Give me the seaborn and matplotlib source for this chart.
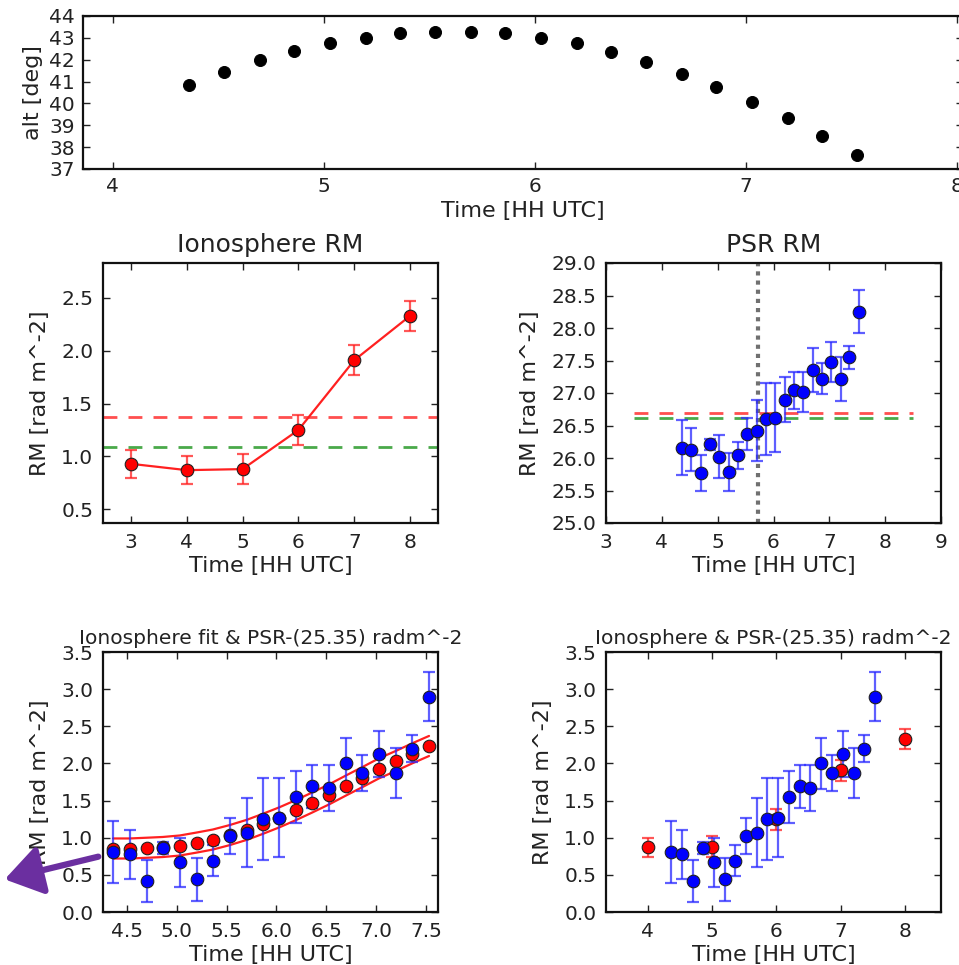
import matplotlib
matplotlib.use("Agg")
import matplotlib.pyplot as plt
import seaborn as sns
import numpy as np
import pandas as pd

# ---------------- data ----------------
psr_time = [4.36, 4.53, 4.70, 4.86, 5.03, 5.20, 5.36, 5.53, 5.70, 5.86,
            6.03, 6.20, 6.36, 6.53, 6.70, 6.86, 7.03, 7.20, 7.36, 7.53]
alt_deg = [40.85, 41.45, 42.0, 42.4, 42.75, 43.0, 43.2, 43.25, 43.25, 43.2,
           43.0, 42.75, 42.35, 41.9, 41.35, 40.75, 40.05, 39.35, 38.5, 37.65]

ion_time = [3, 4, 5, 6, 7, 8]
ion_rm = [0.93, 0.87, 0.88, 1.25, 1.91, 2.33]
ion_err = [0.13, 0.13, 0.14, 0.14, 0.14, 0.14]
ion_mean_red = 1.37
ion_mean_green = 1.09

psr_rm = [26.16, 26.13, 25.77, 26.21, 26.02, 25.79, 26.04, 26.37, 26.42, 26.60,
          26.62, 26.90, 27.04, 27.02, 27.35, 27.22, 27.48, 27.22, 27.55, 28.25]
psr_err = [0.42, 0.33, 0.28, 0.08, 0.33, 0.29, 0.21, 0.24, 0.47, 0.55,
           0.53, 0.35, 0.29, 0.31, 0.34, 0.24, 0.31, 0.34, 0.18, 0.33]
psr_mean_red = 26.70
psr_mean_green = 26.62
psr_vline = 5.73
psr_offset = 25.35

fit_rm = [0.85, 0.85, 0.86, 0.87, 0.89, 0.93, 0.97, 1.03, 1.10, 1.18,
          1.27, 1.37, 1.47, 1.58, 1.70, 1.81, 1.93, 2.03, 2.13, 2.23]
fit_upper = [0.99, 0.99, 1.00, 1.01, 1.03, 1.07, 1.11, 1.17, 1.24, 1.32,
             1.41, 1.51, 1.61, 1.72, 1.84, 1.95, 2.07, 2.17, 2.27, 2.37]
fit_lower = [0.72, 0.72, 0.73, 0.74, 0.76, 0.80, 0.84, 0.90, 0.97, 1.05,
             1.14, 1.24, 1.34, 1.45, 1.57, 1.68, 1.80, 1.90, 2.00, 2.10]

psr_diff = [v - psr_offset for v in psr_rm]

# ---------------- style ----------------
sns.set_style("white")
plt.rcParams.update({
    "font.family": ["DejaVu Sans"],
    "xtick.direction": "in", "ytick.direction": "in",
    "xtick.top": True, "ytick.right": True,
    "xtick.bottom": True, "ytick.left": True,
    "xtick.major.size": 5, "ytick.major.size": 5,
    "xtick.major.width": 1, "ytick.major.width": 1,
    "xtick.color": "#222222", "ytick.color": "#222222",
    "axes.edgecolor": "#111111", "axes.linewidth": 1.6,
    "xtick.labelsize": 14.5, "ytick.labelsize": 14.5,
    "axes.labelsize": 16, "text.color": "#222222",
    "axes.labelcolor": "#222222",
})

W, H = 959, 965
fig = plt.figure(figsize=(W / 100, H / 100), dpi=100)


def box(l, t, r, b):
    return [l / W, 1 - b / H, (r - l) / W, (b - t) / H]


RED = "#ff0000"
BLUE = "#0000ff"
MS = 82


def pts(ax, x, y, color, z=3):
    sns.scatterplot(x=x, y=y, ax=ax, color=color, s=MS, edgecolor="#202020",
                    linewidth=0.8, zorder=z, legend=False)


def ebars(ax, x, y, e, color, alpha):
    ax.errorbar(x, y, yerr=e, fmt="none", ecolor=color, alpha=alpha,
                elinewidth=1.6, capsize=4.5, capthick=1.6, zorder=2)


# ---------------- top: altitude ----------------
ax0 = fig.add_axes(box(83, 16, 963, 169))
sns.scatterplot(x=psr_time, y=alt_deg, ax=ax0, color="black", s=75,
                edgecolor="black", legend=False)
ax0.set_xlim(3.86, 8.03)
ax0.set_ylim(37, 44)
ax0.set_xticks([4, 5, 6, 7, 8])
ax0.set_yticks(range(37, 45))
ax0.set_xlabel("Time [HH UTC]", labelpad=3)
ax0.set_ylabel("alt [deg]", labelpad=4)
ax0.tick_params(labelsize=14.5, pad=6)

# ---------------- middle left: ionosphere RM ----------------
ax1 = fig.add_axes(box(103, 263, 438, 523))
ebars(ax1, ion_time, ion_rm, ion_err, "#ff2020", 0.75)
sns.lineplot(x=ion_time, y=ion_rm, ax=ax1, color="#ff2020", lw=1.6,
             zorder=2.5, legend=False)
pts(ax1, ion_time, ion_rm, RED)
ax1.axhline(ion_mean_red, color="#ff3030", ls=(0, (5, 4)), lw=2, alpha=0.85)
ax1.axhline(ion_mean_green, color="#2a9a2a", ls=(0, (5, 4)), lw=2, alpha=0.85)
ax1.set_xlim(2.5, 8.5)
ax1.set_ylim(min(ion_rm) - 0.5, max(ion_rm) + 0.5)
ax1.set_xticks([3, 4, 5, 6, 7, 8])
ax1.set_yticks([0.5, 1.0, 1.5, 2.0, 2.5])
ax1.set_title("Ionosphere RM", fontsize=18, pad=8)
ax1.set_xlabel("Time [HH UTC]", labelpad=3)
ax1.set_ylabel("RM [rad m^-2]", labelpad=8)
ax1.tick_params(pad=7)

# ---------------- middle right: PSR RM ----------------
ax2 = fig.add_axes(box(606, 263, 941, 523))
ax2.axvline(psr_vline, color="#707070", ls=(0, (1, 1.2)), lw=3, zorder=1)
ax2.plot([3.5, 8.5], [psr_mean_red] * 2, color="#ff3030", ls=(0, (5, 4)),
         lw=2, alpha=0.85, zorder=1.5)
ax2.plot([3.5, 8.5], [psr_mean_green] * 2, color="#2a9a2a", ls=(0, (5, 4)),
         lw=2, alpha=0.85, zorder=1.5)
ebars(ax2, psr_time, psr_rm, psr_err, "#2a2aff", 0.75)
pts(ax2, psr_time, psr_rm, BLUE)
ax2.set_xlim(3, 9)
ax2.set_ylim(25, 29)
ax2.set_xticks(range(3, 10))
ax2.set_yticks(np.arange(25, 29.01, 0.5))
ax2.yaxis.set_major_formatter(matplotlib.ticker.FormatStrFormatter("%.1f"))
ax2.set_title("PSR RM", fontsize=18, pad=8)
ax2.set_xlabel("Time [HH UTC]", labelpad=3)
ax2.set_ylabel("RM [rad m^-2]", labelpad=8)
ax2.tick_params(pad=7)

# ---------------- bottom left: fit & PSR ----------------
ax3 = fig.add_axes(box(103, 652, 438, 912))
sns.lineplot(x=psr_time, y=fit_upper, ax=ax3, color="#ff2020", lw=1.6,
             legend=False, zorder=2)
sns.lineplot(x=psr_time, y=fit_lower, ax=ax3, color="#ff2020", lw=1.6,
             legend=False, zorder=2)
ebars(ax3, psr_time, psr_diff, psr_err, "#2a2aff", 0.75)
pts(ax3, psr_time, fit_rm, RED, z=3)
pts(ax3, psr_time, psr_diff, BLUE, z=4)
ax3.set_xlim(4.26, 7.62)
ax3.set_ylim(0, 3.5)
ax3.set_xticks(np.arange(4.5, 7.51, 0.5))
ax3.set_yticks(np.arange(0, 3.51, 0.5))
ax3.set_title("Ionosphere fit & PSR-(25.35) radm^-2", fontsize=14.5, pad=6)
ax3.set_xlabel("Time [HH UTC]", labelpad=3)
ax3.set_ylabel("RM [rad m^-2]", labelpad=8)
ax3.tick_params(pad=7)

# ---------------- bottom right: ionosphere & PSR ----------------
ax4 = fig.add_axes(box(606, 652, 941, 912))
ebars(ax4, ion_time, ion_rm, ion_err, "#ff2020", 0.75)
ebars(ax4, psr_time, psr_diff, psr_err, "#2a2aff", 0.75)
pts(ax4, ion_time, ion_rm, RED, z=3)
pts(ax4, psr_time, psr_diff, BLUE, z=4)
ax4.set_xlim(3.35, 8.56)
ax4.set_ylim(0, 3.5)
ax4.set_xticks([4, 5, 6, 7, 8])
ax4.set_yticks(np.arange(0, 3.51, 0.5))
ax4.set_title("Ionosphere & PSR-(25.35) radm^-2", fontsize=14.5, pad=6)
ax4.set_xlabel("Time [HH UTC]", labelpad=3)
ax4.set_ylabel("RM [rad m^-2]", labelpad=8)
ax4.tick_params(pad=7)

for ax in (ax1, ax3, ax4):
    ax.yaxis.set_major_formatter(matplotlib.ticker.FormatStrFormatter("%.1f"))
ax3.xaxis.set_major_formatter(matplotlib.ticker.FormatStrFormatter("%.1f"))

# purple annotation arrow
fig.add_artist(matplotlib.patches.FancyArrowPatch(
    (101 / W, 1 - 856 / H), (2 / W, 1 - 880 / H), transform=fig.transFigure,
    arrowstyle="-|>,head_length=9,head_width=6", color="#6b2fa0", lw=4.5,
    mutation_scale=2.5))

fig.savefig("out.png", dpi=100)
